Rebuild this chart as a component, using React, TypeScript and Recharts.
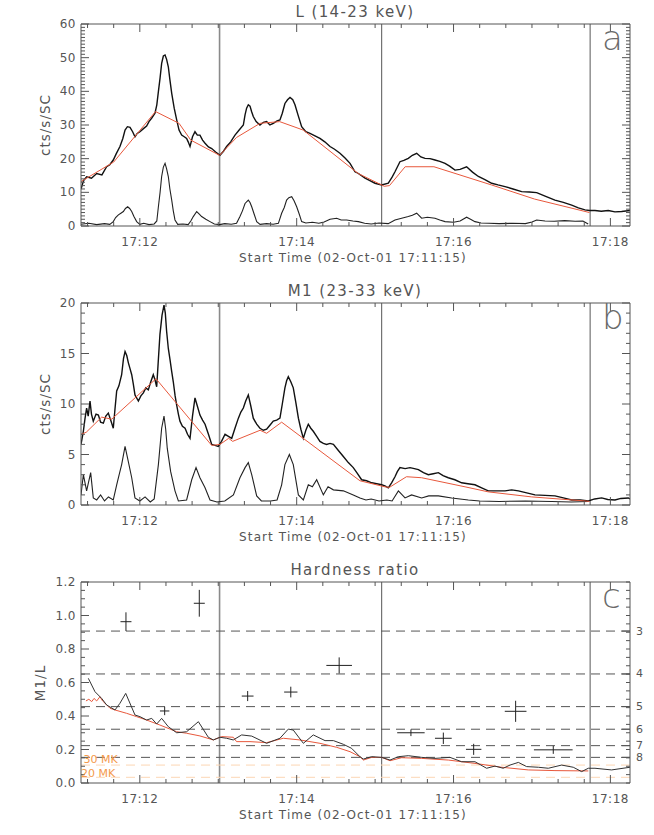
import { ComposedChart, Line, XAxis, YAxis, ReferenceLine, Scatter, ErrorBar } from 'recharts';

// time axis: seconds after 17:11:15 on 02-Oct-01
const timeDomain: [number, number] = [0, 420];
const timeMajor = [45, 165, 285, 405];
const timeMajorLabels = ['17:12', '17:14', '17:16', '17:18'];
const timeTicks = [5, 25, 45, 65, 85, 105, 125, 145, 165, 185, 205, 225, 245, 265, 285, 305, 325, 345, 365, 385, 405];
const intervalMarks = [106, 230, 389.5];

// L (14-23 keV): total counts, background-subtracted, background fit
const lTotal: [number, number][] = [
  [0, 11], [2, 13.5], [4.3, 14.6], [8, 14.2], [12, 15.6], [16, 15.2], [19.6, 17.6], [22, 18.2], [24.7, 19.6],
  [27, 21.5], [29.8, 23.6], [32, 26], [33.7, 28.5], [35.5, 29.5], [37.5, 29.3], [39.5, 28], [41.3, 26.5],
  [43, 27.5], [45.1, 28], [48, 29], [50.2, 29.7], [52, 31], [54, 32], [56.6, 33.5], [58, 36], [59.2, 39.9],
  [60.5, 44], [61.7, 48.3], [63, 50.5], [64.3, 50.8], [65.5, 49.5], [66.8, 47.3], [68, 43.5], [69.4, 39.4],
  [71.3, 35], [73.2, 31.5], [75, 28.5], [77, 27], [79, 26.5], [80.8, 26], [82, 25], [83.4, 23.6], [85.3, 26.5],
  [87.2, 28], [89, 27], [91, 27], [93, 25.5], [94.9, 24.6], [97.5, 23.5], [100, 23], [103, 22], [106.3, 21],
  [109, 22.2], [111.4, 23.6], [114.5, 25], [117.8, 27], [121, 28.5], [124.2, 30], [125.5, 33], [126.7, 35],
  [128, 36], [129.3, 35.6], [130.5, 34], [131.8, 32.5], [134, 31], [136.9, 30], [139.5, 30.8], [142, 31],
  [144.5, 30], [147.1, 30.5], [150, 31.2], [152.2, 31.5], [154, 33.5], [156, 36.4], [158, 37.5], [159.9, 38.2],
  [162, 37.5], [163.7, 36], [166, 33], [168.8, 29.5], [172, 28], [175.2, 27.5], [179, 26.8], [182.8, 26],
  [186.5, 25], [190.5, 23.6], [194, 22.8], [198.1, 21.6], [202, 20.2], [205.8, 18.6], [209.6, 16.1],
  [212.2, 15.6], [217.3, 14.2], [221, 13.5], [224.9, 12.7], [230, 12.2], [235.1, 12.7], [238, 14.5],
  [240.2, 16.1], [244, 19.1], [247, 19.5], [250.4, 20.1], [253.5, 21], [256.8, 21.6], [260, 20.5],
  [263.2, 20.1], [267, 20], [270.8, 19.6], [274.5, 19.2], [278.5, 18.6], [282, 17.8], [286.1, 16.6],
  [290, 16.8], [295, 17.6], [299.5, 16], [304, 14.7], [309, 13.8], [314.2, 12.7], [319, 12.2], [324.4, 11.7],
  [330.5, 11], [337.1, 10.2], [343, 10.1], [348.6, 9.9], [355.5, 8.8], [362.6, 7.7], [369, 7], [375.4, 6.2],
  [380.5, 5.4], [385.6, 4.8], [389, 4.6], [393.2, 4.6], [398, 4.4], [403.4, 4.6], [408.5, 4.2], [413.6, 4.3],
  [420, 4.6],
];
const lFlare: [number, number][] = [
  [0, 0.5], [6, 0.8], [12, 0.4], [18, 0.7], [22, 0.5], [24.7, 1.3], [26.5, 2.5], [28.6, 3.3], [30.5, 3.8],
  [32.4, 4.3], [34, 5.2], [35.7, 5.7], [37.2, 5.2], [38.8, 4.3], [40.5, 2.8], [42.6, 1.3], [45, 0.5], [48, 0.8],
  [52, 0.4], [56, 0.6], [58, 1.5], [59.2, 5.7], [60.5, 10], [61.7, 14.7], [63, 17.5], [64.3, 18.6], [65.5, 17],
  [66.8, 14.7], [68, 11], [69.4, 7.7], [70.6, 4.5], [71.9, 1.8], [74, 0.5], [78, 0.6], [82, 0.4], [84, 1.5],
  [85.9, 2.8], [88.5, 4.3], [90.5, 3.5], [92.3, 2.8], [95.5, 2], [98.7, 1.3], [102, 0.6], [106, 0.4], [110, 0.7],
  [115, 0.5], [119, 0.8], [121.6, 2.8], [123.5, 4.5], [125.5, 6.7], [128, 7.7], [129.3, 7], [130.6, 5.7],
  [132.5, 3.5], [134.4, 1.3], [137, 0.5], [142, 0.7], [147, 0.5], [151, 0.8], [153.5, 3.8], [155.5, 5.5],
  [157.3, 7.7], [159, 8.4], [161.2, 8.7], [163, 7.5], [165, 5.7], [167, 3.5], [168.8, 1.3], [172, 0.9],
  [177, 1.1], [182, 0.8], [186, 1.2], [190.5, 2], [195.6, 2.3], [199, 1.8], [203.2, 1.8], [208, 1.5],
  [212.2, 1.3], [217, 0.8], [222, 0.6], [228, 0.9], [235, 0.7], [240.2, 1.8], [245.3, 2.3], [250.4, 2.8],
  [253.5, 3.2], [256.8, 3.8], [260.6, 2.3], [265, 2.6], [270.8, 2.3], [274.5, 1.8], [278.5, 1.3], [285, 1.1],
  [290, 1.5], [295, 2.6], [298, 2], [301.4, 1.3], [306, 0.9], [312, 0.8], [320, 0.7], [330, 0.8], [340, 0.7],
  [345, 1.2], [348.6, 1.8], [355, 1.5], [362, 1.4], [370, 1.6], [378, 1.4], [384, 1.5], [388, 0.6],
];
const lBackground: [number, number][] = [
  [0, 13.2], [25, 19], [57, 34], [75, 30.5], [84, 25.5], [106, 21], [119, 26.3], [137, 30.5], [152, 31],
  [170, 28.5], [212, 15.6], [232, 11.8], [236, 12], [248, 17.6], [270, 17.6], [314, 12.2], [347, 8], [389, 4],
];

// M1 (23-33 keV)
const m1Total: [number, number][] = [
  [0, 6], [1.8, 7.3], [3, 8.5], [4.3, 9.6], [5.5, 8.8], [6.9, 10.3], [8, 9], [9.4, 8.3], [11.5, 9], [13.3, 8.9],
  [15, 8.2], [17.1, 8.1], [19, 8.8], [20.9, 9.1], [23, 8.3], [24.7, 7.6], [26, 9.5], [27.3, 11.3], [29, 11.8],
  [31.1, 12.9], [32.5, 14.5], [33.7, 15.2], [35, 14.8], [36.2, 14.1], [37.5, 13.5], [38.8, 12.9], [40, 12],
  [41.3, 10.9], [43.9, 10.3], [45.8, 10.8], [47.7, 11.1], [49.6, 11.6], [51.5, 11.4], [53.4, 12.2], [55.3, 12.9],
  [56.6, 12.4], [57.9, 11.7], [59, 14], [60.4, 16.9], [62, 18.8], [63.5, 19.8], [64.5, 19], [65.5, 17.2],
  [66.8, 15.5], [68.1, 14.4], [69.4, 13.2], [70.6, 12.2], [72, 10.8], [73.2, 9.9], [74.5, 9], [75.7, 8.3],
  [77.6, 7.8], [79.6, 7.6], [81.5, 7], [83.4, 6.6], [85.3, 8.8], [87.2, 10.6], [89, 9.8], [91, 8.9], [93, 8.4],
  [94.9, 8], [97.5, 7], [100, 6], [102.5, 5.9], [105, 5.8], [107.5, 6.3], [110.2, 7], [112.8, 6.8], [115.3, 6.6],
  [117.8, 7.6], [120.4, 8.6], [122.3, 9.2], [124.2, 9.6], [126, 10.3], [128, 10.9], [129.9, 9.8], [131.8, 8.6],
  [134.4, 8], [136.9, 7.6], [139.5, 7.4], [142, 7.5], [144.5, 7.9], [147.1, 8.3], [149.7, 8.4], [152.2, 8.6],
  [154, 10], [156, 11.6], [157.3, 12.3], [158.6, 12.7], [160.5, 12.2], [162.4, 11.6], [164.4, 10.1], [166.3, 8.6],
  [168.2, 7.5], [170.1, 6.6], [172, 7.4], [173.9, 8], [175.8, 7.6], [177.7, 7.3], [180.3, 6.8], [182.8, 6.3],
  [185.4, 6.1], [187.9, 6], [190.5, 6.1], [193.1, 6], [196.9, 5.4], [200.7, 4.8], [204.5, 4.2], [208.3, 3.7],
  [211, 3.2], [214.7, 2.5], [218.5, 2.4], [222.4, 2.2], [226.2, 2.1], [230, 2], [232.5, 1.9], [235.1, 1.7],
  [237.6, 2.2], [240.2, 2.8], [242, 3.3], [244, 3.7], [248, 3.6], [251.7, 3.7], [255, 3.6], [258.1, 3.5],
  [262, 3.2], [265.7, 3], [269.5, 3.1], [273.4, 3.2], [277, 2.9], [281, 2.7], [286, 2.5], [291.2, 2.2],
  [296, 2.1], [301.4, 2], [306.5, 1.7], [311.6, 1.4], [318, 1.4], [324.4, 1.4], [329.5, 1.5], [334.6, 1.4],
  [341, 1.2], [347.3, 1], [355, 0.95], [362.6, 0.9], [369, 0.7], [375.4, 0.5], [382, 0.5], [388.1, 0.4],
  [393, 0.6], [398.3, 0.7], [403, 0.55], [408.5, 0.5], [413, 0.65], [418.7, 0.7], [420, 0.6],
];
const m1Flare: [number, number][] = [
  [0, 1], [1.8, 3], [4.3, 1.4], [7.4, 3.2], [9.4, 0.7], [12, 0.5], [15, 1], [18, 0.4], [21, 0.8], [24.7, 0.5],
  [27.3, 2], [29.2, 3], [31.1, 4], [33.7, 5.8], [36.2, 4.3], [38.8, 2.7], [41.3, 0.7], [45, 0.4], [49, 0.8],
  [53, 0.3], [56, 0.6], [59.2, 4], [61.7, 7.6], [63.5, 8.8], [64.8, 7.5], [66, 5.6], [68.6, 3.3], [71.9, 1.4],
  [74.5, 0.4], [80.8, 0.5], [84.7, 2.5], [88, 3.7], [91, 2.7], [94.9, 1.7], [98.7, 0.5], [104, 0.3], [110, 0.4],
  [116.6, 1], [121.6, 2.7], [125.5, 3.7], [128, 4.2], [130.6, 3], [134.4, 0.9], [138, 0.4], [145, 0.4],
  [150, 0.5], [153.5, 2], [156, 4], [159.4, 5], [162.4, 4], [166.3, 1], [170.1, 0.5], [173.9, 2], [177, 1.8],
  [180.3, 2.5], [185.4, 1], [189, 1.8], [193.1, 1.5], [200.7, 1.4], [208.3, 1], [213.4, 0.7], [218, 0.5],
  [222, 0.6], [228, 0.4], [234, 0.5], [238, 0.4], [242.8, 1.4], [247.9, 0.7], [252.9, 1], [260.6, 0.7],
  [266, 0.9], [273.4, 0.9], [283.6, 0.7], [296.3, 0.5], [305, 0.4], [320, 0.35], [340, 0.4], [360, 0.35],
  [375, 0.3], [388, 0.35],
];
const m1Background: [number, number][] = [
  [0, 7], [4, 7.2], [15.8, 8.7], [23.5, 8.5], [57.4, 12.5], [100, 5.9], [106.3, 6], [113, 6.6], [116, 6.3],
  [137, 7.4], [142, 7.1], [153.5, 8.2], [213.4, 2.4], [232.5, 1.8], [236, 1.75], [249, 2.8], [260.6, 2.7],
  [293.8, 1.8], [311.6, 1.3], [344.8, 0.8], [385.6, 0.4], [389, 0.35],
];

// Hardness ratio M1/L
const ratioObserved: [number, number][] = [
  [5.6, 0.625], [10.7, 0.545], [15.8, 0.505], [19.6, 0.466], [26, 0.436], [29.8, 0.476], [34.2, 0.535],
  [41.3, 0.406], [45.1, 0.396], [50.2, 0.376], [54.1, 0.386], [57.9, 0.352], [61.7, 0.386], [66.8, 0.336],
  [73.2, 0.3], [80.8, 0.306], [89.8, 0.366], [97.4, 0.273], [101.2, 0.257], [106.3, 0.273], [111.4, 0.267],
  [116.5, 0.257], [122.9, 0.287], [130.6, 0.28], [142, 0.237], [152.2, 0.267], [158.6, 0.322], [162.4, 0.316],
  [170.1, 0.237], [177.7, 0.287], [186.7, 0.253], [193.1, 0.253], [200.7, 0.231], [207, 0.207], [213.4, 0.157],
  [216, 0.143], [222.4, 0.157], [230, 0.153], [236.4, 0.137], [242.8, 0.157], [250.4, 0.163], [260.6, 0.153],
  [270.8, 0.147], [282.3, 0.153], [291.2, 0.127], [301.4, 0.127], [310.3, 0.088], [316.7, 0.101], [323, 0.088],
  [328.2, 0.107], [334.6, 0.123], [340.9, 0.098], [349.9, 0.094], [357.5, 0.088], [367.7, 0.107], [376.6, 0.094],
  [383, 0.068], [388.1, 0.088], [393.2, 0.088], [405.9, 0.078], [420, 0.094],
];
const ratioModel: [number, number][] = [
  [3.8, 0.49], [6, 0.5], [8.2, 0.486], [10, 0.505], [12, 0.49], [14.5, 0.515], [16.5, 0.49], [18.4, 0.476],
  [22.2, 0.446], [26, 0.436], [34.9, 0.416], [42.6, 0.396], [50.2, 0.376], [60.4, 0.346], [73.2, 0.306],
  [80.8, 0.297], [91, 0.281], [101.2, 0.257], [107.6, 0.277], [116.5, 0.273], [119, 0.247], [129.3, 0.247],
  [142, 0.241], [154.8, 0.267], [167.5, 0.257], [182.8, 0.237], [195.6, 0.213], [205.8, 0.187], [213.4, 0.157],
  [216, 0.137], [222.4, 0.153], [230, 0.153], [236.4, 0.133], [245.3, 0.151], [260.6, 0.147], [281, 0.137],
  [301.4, 0.117], [321.8, 0.094], [342.2, 0.078], [362.6, 0.074], [388.1, 0.072],
];
const crossTime = [34.4, 90.5, 64, 127.5, 160.5, 197.5, 252.4, 277.2, 300.4, 332.5, 361.3];
const crossRatio = [0.963, 1.073, 0.43, 0.519, 0.543, 0.702, 0.3, 0.267, 0.201, 0.428, 0.198];
const crossTimeErr = [4.2, 4.2, 3.6, 4.5, 5.1, 9.8, 10.5, 6.4, 5.9, 8.3, 14.8];
const crossRatioErr = [0.056, 0.08, 0.025, 0.03, 0.032, 0.048, 0.02, 0.034, 0.033, 0.063, 0.024];

// temperature levels (right axis) and isotherm guides
const tempLevels = [0.907, 0.651, 0.456, 0.321, 0.223, 0.153];
const tempLabels = ['3', '4', '5', '6', '7', '8'];
const isoLevels = [0.107, 0.034];
const isoLabels = ['30 MK', '20 MK'];

const FONT = '"DejaVu Sans", sans-serif';
const INK = '#555';
const RED = '#e8583c';

const toPts = (arr: [number, number][]) => arr.map(([t, y]) => ({ t, y }));
const crossData = crossTime.map((t, i) => ({ t, y: crossRatio[i], dt: crossTimeErr[i], dy: crossRatioErr[i] }));

const onStep = (v: number, step: number) => Math.abs(v / step - Math.round(v / step)) < 1e-6;

function InTick(props: any) {
  const { x, y, payload, side, longAt, labelOf } = props;
  const v: number = payload.value;
  const len = longAt(v) ? 8 : 4;
  const text: string = labelOf ? labelOf(v) : '';
  const ts = { fontFamily: FONT, fontSize: 12, fill: INK, letterSpacing: 0.5 };
  if (side === 'bottom') {
    return (
      <g>
        <line x1={x} x2={x} y1={y} y2={y - len} stroke={INK} />
        {text ? <text x={x} y={y + 16} textAnchor="middle" dominantBaseline="central" style={ts}>{text}</text> : null}
      </g>
    );
  }
  if (side === 'top') return <line x1={x} x2={x} y1={y} y2={y + len} stroke={INK} />;
  if (side === 'left') {
    return (
      <g>
        <line x1={x} x2={x + len} y1={y} y2={y} stroke={INK} />
        {text ? <text x={x - 5} y={y} textAnchor="end" dominantBaseline="central" style={ts}>{text}</text> : null}
      </g>
    );
  }
  return (
    <g>
      <line x1={x} x2={x - len} y1={y} y2={y} stroke={INK} />
      {text ? <text x={x + 6} y={y} textAnchor="start" dominantBaseline="central" style={{ ...ts, fontSize: 11 }}>{text}</text> : null}
    </g>
  );
}

interface PanelProps {
  top: number;
  height: number;
  title: string;
  yTitle: string;
  yTitleX: number;
  letter: string;
  yDomain: [number, number];
  yTicks: number[];
  yMajor: (v: number) => boolean;
  yFmt: (v: number) => string;
  rightTicks?: number[];
  rightMajor?: (v: number) => boolean;
  rightFmt?: (v: number) => string;
  children: React.ReactNode;
}

function Panel(p: PanelProps) {
  const plotTop = p.top + 24;
  const plotBottom = p.top + p.height - 49;
  const timeLabel = (v: number) => {
    const i = timeMajor.indexOf(v);
    return i >= 0 ? timeMajorLabels[i] : '';
  };
  const isTimeMajor = (v: number) => timeMajor.includes(v);
  return (
    <>
      <div style={{ position: 'absolute', left: 0, top: p.top, width: 654, height: p.height }}>
        <ComposedChart width={654} height={p.height} margin={{ top: 0, right: 0, bottom: 0, left: 0 }}>
          <XAxis
            xAxisId="b" type="number" dataKey="t" domain={timeDomain} ticks={timeTicks} interval={0}
            allowDataOverflow height={49} tickSize={0} tickMargin={0} tickLine={false}
            axisLine={{ stroke: INK }}
            tick={(tp: any) => <InTick {...tp} side="bottom" longAt={isTimeMajor} labelOf={timeLabel} />}
          />
          <XAxis
            xAxisId="t" orientation="top" type="number" dataKey="t" domain={timeDomain} ticks={timeTicks}
            interval={0} allowDataOverflow height={24} tickSize={0} tickMargin={0} tickLine={false}
            axisLine={{ stroke: INK }}
            tick={(tp: any) => <InTick {...tp} side="top" longAt={isTimeMajor} />}
          />
          <YAxis
            yAxisId="l" type="number" dataKey="y" domain={p.yDomain} ticks={p.yTicks} interval={0}
            allowDataOverflow width={81} tickSize={0} tickMargin={0} tickLine={false}
            axisLine={{ stroke: INK }}
            tick={(tp: any) => <InTick {...tp} side="left" longAt={p.yMajor} labelOf={(v: number) => (p.yMajor(v) ? p.yFmt(v) : '')} />}
          />
          <YAxis
            yAxisId="r" orientation="right" type="number" domain={p.yDomain} ticks={p.rightTicks ?? p.yTicks}
            interval={0} allowDataOverflow width={24} tickSize={0} tickMargin={0} tickLine={false}
            axisLine={{ stroke: INK }}
            tick={(tp: any) => <InTick {...tp} side="right" longAt={p.rightMajor ?? p.yMajor} labelOf={p.rightFmt} />}
          />
          {intervalMarks.map((x, i) => (
            <ReferenceLine
              key={`mark-${i}`} xAxisId="b" yAxisId="l" x={x}
              stroke={i === 0 ? '#8a8a8a' : '#666'} strokeWidth={i === 0 ? 1.6 : 1.1}
            />
          ))}
          {p.children}
        </ComposedChart>
      </div>
      <div style={{ position: 'absolute', left: 155, width: 400, top: p.top + 3, lineHeight: '18px', textAlign: 'center', fontFamily: FONT, fontSize: 15, letterSpacing: 1.4, color: INK }}>
        {p.title}
      </div>
      <div style={{ position: 'absolute', left: 153, width: 400, top: plotBottom + 24, lineHeight: '16px', textAlign: 'center', fontFamily: FONT, fontSize: 12, letterSpacing: 1.1, color: INK, whiteSpace: 'nowrap' }}>
        Start Time (02-Oct-01 17:11:15)
      </div>
      <div style={{ position: 'absolute', left: p.yTitleX - 60, width: 120, top: (plotTop + plotBottom) / 2 - 8, lineHeight: '16px', textAlign: 'center', fontFamily: FONT, fontSize: 13.5, letterSpacing: 1, color: INK, transform: 'rotate(-90deg)' }}>
        {p.yTitle}
      </div>
      <div style={{ position: 'absolute', left: 602, top: p.top + 21, lineHeight: '34px', fontFamily: FONT, fontSize: 34, fontWeight: 100, color: '#6a6a6a' }}>
        {p.letter}
      </div>
    </>
  );
}

const countTicksA = Array.from({ length: 61 }, (_, i) => i);
const countTicksB = Array.from({ length: 21 }, (_, i) => i);
const ratioTicks = Array.from({ length: 25 }, (_, i) => +(i * 0.05).toFixed(2));
const ratioRightTicks = [...ratioTicks, ...tempLevels];

export default function App() {
  return (
    <div style={{ position: 'absolute', left: 0, top: 0, width: 654, height: 835, background: '#fff' }}>
      <Panel
        top={0} height={275} title="L (14-23 keV)" yTitle="cts/s/SC" yTitleX={45} letter="a"
        yDomain={[0, 60]} yTicks={countTicksA} yMajor={(v) => onStep(v, 10)} yFmt={(v) => String(v)}
      >
        <Line xAxisId="b" yAxisId="l" data={toPts(lTotal)} dataKey="y" type="linear" dot={false} stroke="#111" strokeWidth={1.4} isAnimationActive={false} />
        <Line xAxisId="b" yAxisId="l" data={toPts(lFlare)} dataKey="y" type="linear" dot={false} stroke="#222" strokeWidth={1.1} isAnimationActive={false} />
        <Line xAxisId="b" yAxisId="l" data={toPts(lBackground)} dataKey="y" type="linear" dot={false} stroke={RED} strokeWidth={1} isAnimationActive={false} />
      </Panel>
      <Panel
        top={279} height={275} title="M1 (23-33 keV)" yTitle="cts/s/SC" yTitleX={45} letter="b"
        yDomain={[0, 20]} yTicks={countTicksB} yMajor={(v) => onStep(v, 5)} yFmt={(v) => String(v)}
      >
        <Line xAxisId="b" yAxisId="l" data={toPts(m1Total)} dataKey="y" type="linear" dot={false} stroke="#111" strokeWidth={1.4} isAnimationActive={false} />
        <Line xAxisId="b" yAxisId="l" data={toPts(m1Flare)} dataKey="y" type="linear" dot={false} stroke="#222" strokeWidth={1.1} isAnimationActive={false} />
        <Line xAxisId="b" yAxisId="l" data={toPts(m1Background)} dataKey="y" type="linear" dot={false} stroke={RED} strokeWidth={1} isAnimationActive={false} />
      </Panel>
      <Panel
        top={558} height={274} title="Hardness ratio" yTitle="M1/L" yTitleX={40} letter="c"
        yDomain={[0, 1.2]} yTicks={ratioTicks} yMajor={(v) => onStep(v, 0.2)} yFmt={(v) => v.toFixed(1)}
        rightTicks={ratioRightTicks}
        rightMajor={(v) => tempLevels.includes(v)}
        rightFmt={(v) => {
          const i = tempLevels.indexOf(v);
          return i >= 0 ? tempLabels[i] : '';
        }}
      >
        {tempLevels.map((y, i) => (
          <ReferenceLine key={`temp-${i}`} xAxisId="b" yAxisId="l" y={y} stroke="#555" strokeDasharray="9 6" />
        ))}
        {isoLevels.map((y, i) => (
          <ReferenceLine
            key={`iso-${i}`} xAxisId="b" yAxisId="l" y={y} stroke="#fcd6b4" strokeDasharray="9 6"
            label={{ value: isoLabels[i], position: 'insideBottomLeft', offset: i === 0 ? 2.5 : 0, fill: '#f49a4c', fontSize: 11, fontFamily: FONT }}
          />
        ))}
        <Line xAxisId="b" yAxisId="l" data={toPts(ratioModel)} dataKey="y" type="linear" dot={false} stroke={RED} strokeWidth={1} isAnimationActive={false} />
        <Line xAxisId="b" yAxisId="l" data={toPts(ratioObserved)} dataKey="y" type="linear" dot={false} stroke="#333" strokeWidth={1} isAnimationActive={false} />
        <Scatter xAxisId="b" yAxisId="l" data={crossData} dataKey="y" shape={() => <g />} isAnimationActive={false}>
          <ErrorBar dataKey="dy" direction="y" width={0} stroke="#222" strokeWidth={1} />
          <ErrorBar dataKey="dt" direction="x" width={0} stroke="#222" strokeWidth={1} />
        </Scatter>
      </Panel>
    </div>
  );
}
